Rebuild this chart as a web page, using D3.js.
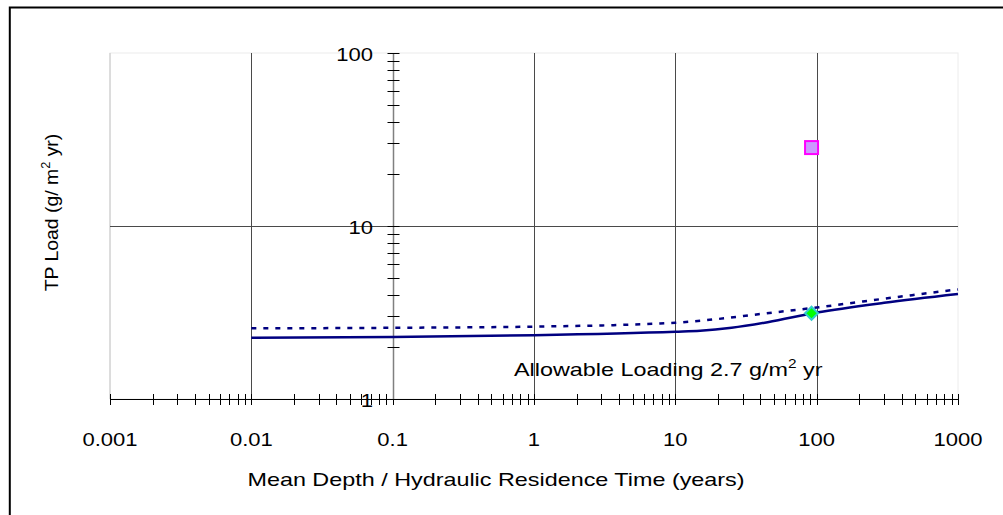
<!DOCTYPE html>
<html>
<head>
<meta charset="utf-8">
<script src="https://cdn.jsdelivr.net/npm/d3@7"></script>
<style>
  html, body { margin: 0; padding: 0; background: #fff; }
  svg { display: block; font-family: "Liberation Sans", Arial, sans-serif; }
</style>
</head>
<body>
<svg id="chart" width="1003" height="515"></svg>
<script>
// residence time (years) and loads (g/m2 yr)
const solidX = [0.01, 0.1, 1, 10, 15, 25, 45, 100, 300, 1000];
const solidY = [2.26, 2.28, 2.34, 2.45, 2.48, 2.58, 2.78, 3.16, 3.6, 4.05];
const dashX = [0.01, 0.1, 1, 10, 20, 40, 100, 300, 1000];
const dashY = [2.56, 2.58, 2.62, 2.76, 2.9, 3.1, 3.38, 3.8, 4.3];
const measuredX = [92];
const measuredY = [28.4];
const predictedX = [92];
const predictedY = [3.13];

const xTickLabels = ["0.001", "0.01", "0.1", "1", "10", "100", "1000"];
const yTickLabels = ["1", "10", "100"];

const svg = d3.select("#chart");

const x = d3.scaleLog().domain([0.001, 1000]).range([110, 958]);
const y = d3.scaleLog().domain([1, 100]).range([399, 53]);

// outer frame (only top and left show)
svg.append("path")
    .attr("d", "M9.8,515 V7.5 H1003")
    .attr("fill", "none")
    .attr("stroke", "#000")
    .attr("stroke-width", 2);

// plot area
svg.append("rect")
    .attr("x", x(0.001)).attr("y", y(100))
    .attr("width", x(1000) - x(0.001)).attr("height", y(1) - y(100))
    .attr("fill", "#fff")
    .attr("stroke", "#ececec");
svg.append("line")
    .attr("x1", x(0.001)).attr("x2", x(0.001))
    .attr("y1", y(100)).attr("y2", y(1))
    .attr("stroke", "#c4c4c4");

// gridlines
const decades = [0.01, 0.1, 1, 10, 100];
svg.append("g").selectAll("line")
    .data(decades)
    .enter().append("line")
        .attr("x1", d => Math.round(x(d)) + 0.5)
        .attr("x2", d => Math.round(x(d)) + 0.5)
        .attr("y1", y(100)).attr("y2", y(1))
        .attr("stroke", "#4a4a4a");
svg.append("line")
    .attr("x1", x(0.001)).attr("x2", x(1000))
    .attr("y1", Math.round(y(10)) + 0.5).attr("y2", Math.round(y(10)) + 0.5)
    .attr("stroke", "#4a4a4a");

// minor + major tick values
function logTicks(lo, hi) {
    let t = [];
    for (let p = lo; p < hi; p++) {
        for (let m = 1; m < 10; m++) t.push(m * Math.pow(10, p));
    }
    t.push(Math.pow(10, hi));
    return t;
}

// x axis at y = 1
const xAxisY = Math.round(y(1)) + 0.5;
svg.append("line")
    .attr("x1", x(0.001)).attr("x2", x(1000))
    .attr("y1", xAxisY).attr("y2", xAxisY)
    .attr("stroke", "#000");
svg.append("g").selectAll("line")
    .data(logTicks(-3, 3))
    .enter().append("line")
        .attr("x1", d => Math.round(x(d)) + 0.5)
        .attr("x2", d => Math.round(x(d)) + 0.5)
        .attr("y1", xAxisY - 5.5).attr("y2", xAxisY + 5.5)
        .attr("stroke", "#000");

// y axis at x = 0.1
const yAxisX = Math.round(x(0.1)) + 0.5;
svg.append("line")
    .attr("x1", yAxisX).attr("x2", yAxisX)
    .attr("y1", y(100)).attr("y2", y(1))
    .attr("stroke", "#808080")
    .attr("stroke-width", 1.5);
svg.append("g").selectAll("line")
    .data(logTicks(0, 2))
    .enter().append("line")
        .attr("x1", yAxisX - 6).attr("x2", yAxisX + 6)
        .attr("y1", d => Math.round(y(d)) + 0.5)
        .attr("y2", d => Math.round(y(d)) + 0.5)
        .attr("stroke", "#000");

// text in the original is stretched sideways
function stretched(parent, px, py, anchor, sx) {
    return parent.append("text")
        .attr("transform", "translate(" + px + "," + py + ") scale(" + sx + ",1)")
        .attr("text-anchor", anchor)
        .attr("font-size", 19)
        .attr("fill", "#000");
}

// tick labels
for (let lab of xTickLabels) {
    stretched(svg, x(+lab), 446, "middle", 1.16).text(lab);
}
for (let lab of yTickLabels) {
    stretched(svg, 373, y(+lab) + 7.5, "end", 1.16).text(lab);
}

// axis titles
stretched(svg, 496, 486, "middle", 1.23).text("Mean Depth / Hydraulic Residence Time (years)");

let yt = svg.append("text")
    .attr("transform", "translate(58,212.5) rotate(-90) scale(1.02,1)")
    .attr("text-anchor", "middle")
    .attr("font-size", 19)
    .attr("fill", "#000");
yt.append("tspan").text("TP Load (g/ m");
yt.append("tspan").attr("font-size", 12.5).attr("dy", -8).text("2");
yt.append("tspan").attr("dy", 8).text(" yr)");

// lines
const line = d3.line()
    .x(d => x(d[0]))
    .y(d => y(d[1]))
    .curve(d3.curveMonotoneX);

svg.append("path")
    .datum(d3.zip(solidX, solidY))
    .attr("d", line)
    .attr("fill", "none")
    .attr("stroke", "#000080")
    .attr("stroke-width", 2.5);

svg.append("path")
    .datum(d3.zip(dashX, dashY))
    .attr("d", line)
    .attr("fill", "none")
    .attr("stroke", "#000080")
    .attr("stroke-width", 2.5)
    .attr("stroke-dasharray", "5,7");

// measured load (square)
svg.append("g").selectAll("rect")
    .data(d3.zip(measuredX, measuredY))
    .enter().append("rect")
        .attr("x", d => x(d[0]) - 6.5)
        .attr("y", d => y(d[1]) - 6.5)
        .attr("width", 13).attr("height", 13)
        .attr("fill", "#cc99ff")
        .attr("stroke", "#ff00ff")
        .attr("stroke-width", 2);

// predicted point (diamond)
svg.append("g").selectAll("path")
    .data(d3.zip(predictedX, predictedY))
    .enter().append("path")
        .attr("d", d => {
            let cx = x(d[0]), cy = y(d[1]), r = 6.5;
            return "M" + cx + "," + (cy - r) + "L" + (cx + r) + "," + cy +
                "L" + cx + "," + (cy + r) + "L" + (cx - r) + "," + cy + "Z";
        })
        .attr("fill", "#00ff00")
        .attr("stroke", "#33cccc")
        .attr("stroke-width", 2);

// annotation
let ann = stretched(svg, 514, 376, "start", 1.23);
ann.append("tspan").text("Allowable Loading 2.7 g/m");
ann.append("tspan").attr("font-size", 12.5).attr("dy", -8).text("2");
ann.append("tspan").attr("dy", 8).text(" yr");
</script>
</body>
</html>
